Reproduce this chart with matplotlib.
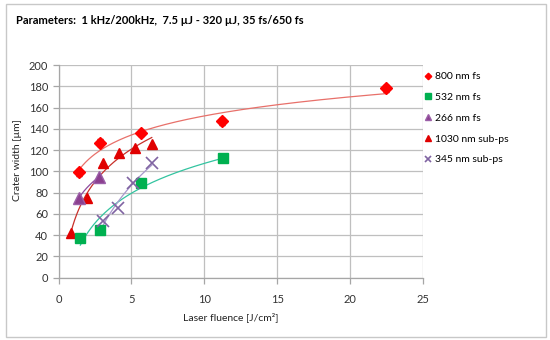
import numpy as np
import matplotlib
matplotlib.use("Agg")
import matplotlib.pyplot as plt
from matplotlib.patches import Rectangle
from matplotlib.lines import Line2D

plt.rcParams['font.family'] = ['Lato', 'DejaVu Sans']

# ---- data ----
x800 = [1.43, 2.85, 5.66, 11.24, 22.48]
y800 = [99, 127, 136, 147, 178]
e800 = [3, 3, 3, 3, 3]

x532 = [1.5, 2.85, 5.66, 11.27]
y532 = [37, 45, 89, 113]

x266 = [1.4, 2.8]
y266 = [75, 95]

x1030 = [0.86, 1.98, 3.08, 4.15, 5.25, 6.4]
y1030 = [42, 75, 108, 117, 122, 126]

x345 = [3.07, 4.1, 5.13, 6.4]
y345 = [53, 66, 89, 108]

labels = ["800 nm fs", "532 nm fs", "266 nm fs", "1030 nm sub-ps", "345 nm sub-ps"]
xticks = [0, 5, 10, 15, 20, 25]
yticks = [0, 20, 40, 60, 80, 100, 120, 140, 160, 180, 200]

W, H = 550, 340
fig = plt.figure(figsize=(5.5, 3.4), dpi=100)
fig.patches.append(Rectangle((6 / W, 1 - 337 / H), 540 / W, 333 / H, transform=fig.transFigure,
                             fill=False, edgecolor='#C8C8C8', linewidth=1.0))

left, right, top, bottom = 58.5, 422.8, 65, 277.7
ax = fig.add_axes([left / W, 1 - bottom / H, (right - left) / W, (bottom - top) / H])
ax.set_xlim(0, 25)
ax.set_ylim(0, 200)
ax.set_xticks(xticks)
ax.set_yticks(yticks)
ax.grid(True, color='#BFBFBF', linewidth=0.9)
ax.set_axisbelow(True)
for s in ['top', 'right']:
    ax.spines[s].set_visible(False)
for s in ['left', 'bottom']:
    ax.spines[s].set_color('#A6A6A6')
    ax.spines[s].set_linewidth(0.9)
ax.tick_params(axis='both', colors='#A6A6A6', length=4, width=0.9, labelsize=8, labelcolor='#333333')
ax.tick_params(axis='x', pad=8)


def logfit(xs, ys, color, lw=0.9):
    xs = np.asarray(xs, float)
    ys = np.asarray(ys, float)
    a, b = np.polyfit(np.log(xs), ys, 1)
    xx = np.linspace(xs.min(), xs.max(), 200)
    ax.plot(xx, a * np.log(xx) + b, color=color, lw=lw, zorder=2)


logfit(x800, y800, '#E8706A')
logfit(x532, y532, '#33C4A0')
logfit(x266, y266, '#8E4B9E')
logfit(x1030, y1030, '#C8302A')
logfit(x345, y345, '#A898CC')

styles = [
    dict(marker='D', color='#FF0000', markersize=6),
    dict(marker='s', color='#00B050', markersize=7.5),
    dict(marker='^', color='#8B3F8F', markeredgecolor='#9B5FA8', markersize=8.5),
    dict(marker='^', color='#E00000', markersize=7.5),
    dict(marker='x', color='#8064A2', markersize=8, mew=1.2),
]

ax.errorbar(x800, y800, yerr=e800, fmt='none', ecolor='#A00000', elinewidth=0.9, capsize=2, zorder=4)
ax.plot(x800, y800, linestyle='none', zorder=4, **styles[0])
ax.plot(x532, y532, linestyle='none', zorder=4, **styles[1])
ax.plot(x266, y266, linestyle='none', zorder=4, **styles[2])
ax.plot(x1030, y1030, linestyle='none', zorder=3, **styles[3])
ax.plot(x345, y345, linestyle='none', zorder=5, **styles[4])

handles = [Line2D([], [], linestyle='none', **st) for st in styles]
fig.legend(handles, labels, loc='upper left', bbox_to_anchor=(424 / W, 1 - 72 / H), frameon=False,
           fontsize=7.5, markerscale=0.55, handlelength=0.8, handletextpad=0.3, labelspacing=1.1,
           borderaxespad=0, borderpad=0)

fig.text(16 / W, 1 - 20 / H, "Parameters:  1 kHz/200kHz,  7.5 µJ - 320 µJ, 35 fs/650 fs",
         fontsize=8, fontweight='bold', va='center', ha='left')
fig.text(18 / W, 1 - 160 / H, "Crater width [µm]", rotation=90, fontsize=7.5, va='center', ha='center',
         color='#222222')
fig.text(183 / W, 1 - 317 / H, "Laser fluence [J/cm²]", fontsize=7.5, va='center', ha='left', color='#222222')

fig.savefig("out.png", dpi=100)
